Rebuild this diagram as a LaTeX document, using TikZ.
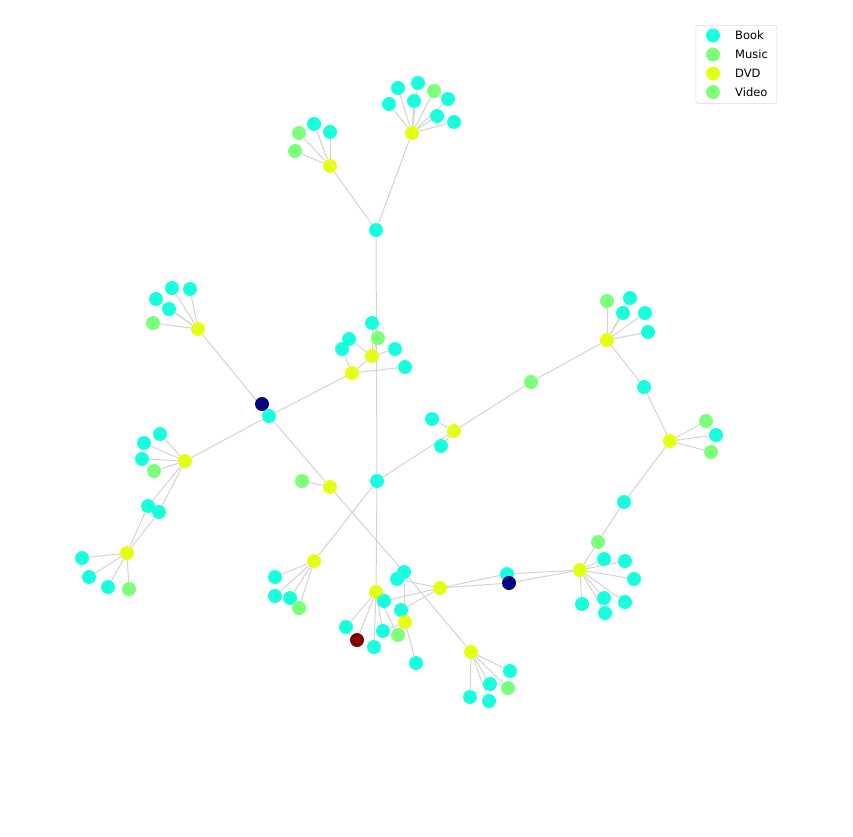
\documentclass[tikz,border=0pt]{standalone}
\usepackage{fontspec}
\setsansfont{DejaVu Sans}
\usepackage{tikz}
\usetikzlibrary{backgrounds}
\definecolor{bookcyan}{HTML}{18FFDD}
\definecolor{musicgreen}{HTML}{7CFF79}
\definecolor{dvdyellow}{HTML}{E4FF14}
\definecolor{videogreen}{HTML}{7CFF79}
\definecolor{deepnavy}{HTML}{000080}
\definecolor{deepmaroon}{HTML}{800000}
\definecolor{linkgray}{HTML}{D3D3D3}
\tikzset{
  item/.style={circle, inner sep=0pt, minimum size=14pt},
  book/.style={item, fill=bookcyan},
  music/.style={item, fill=musicgreen},
  dvd/.style={item, fill=dvdyellow},
  navy/.style={item, fill=deepnavy},
  maroon/.style={item, fill=deepmaroon},
  link/.style={draw=linkgray, line width=1pt},
}

\begin{document}
\begin{tikzpicture}[x=1pt, y=-1pt, font=\sffamily,
    legbox/.style={draw=black!15, rounded corners=2.5pt, line width=0.6pt, fill=white},
    legtext/.style={anchor=west, inner sep=0pt, font=\sffamily\fontsize{11.5}{13}\selectfont}]
  \useasboundingbox (0,0) rectangle (853,836);

  % Top branch
  \node[book] (A) at (376,230) {};
  \node[dvd] (B) at (412,133) {};
  \node[book] (b1) at (389,104) {};
  \node[book] (b2) at (398,88) {};
  \node[book] (b3) at (418,83) {};
  \node[book] (b4) at (414,101) {};
  \node[music] (b5) at (434,91) {};
  \node[book] (b6) at (448,99) {};
  \node[book] (b7) at (437,116) {};
  \node[book] (b8) at (454,122) {};
  \node[dvd] (C) at (330,166) {};
  \node[music] (c1) at (299,133) {};
  \node[book] (c2) at (314,124) {};
  \node[book] (c3) at (330,132) {};
  \node[music] (c4) at (295,151) {};

  % Middle cluster
  \node[book] (d1) at (372,323) {};
  \node[music] (d2) at (378,338) {};
  \node[book] (d3) at (395,349) {};
  \node[book] (d4) at (349,339) {};
  \node[book] (e1) at (342,349) {};
  \node[dvd] (D) at (372,356) {};
  \node[book] (e2) at (405,367) {};
  \node[dvd] (E) at (352,373) {};

  % Left branch
  \node[dvd] (F) at (198,329) {};
  \node[book] (f1) at (172,288) {};
  \node[book] (f2) at (190,289) {};
  \node[book] (f3) at (156,299) {};
  \node[book] (f4) at (169,309) {};
  \node[music] (f5) at (153,323) {};
  \node[navy] (G) at (262,404) {};
  \node[book] (H) at (269,416) {};
  \node[dvd] (I) at (185,461) {};
  \node[book] (i1) at (160,434) {};
  \node[book] (i2) at (144,443) {};
  \node[book] (i3) at (142,459) {};
  \node[music] (i4) at (154,471) {};
  \node[book] (j1) at (148,506) {};
  \node[book] (j2) at (159,512) {};
  \node[dvd] (K) at (127,553) {};
  \node[book] (k1) at (82,558) {};
  \node[book] (k2) at (89,577) {};
  \node[book] (k3) at (108,587) {};
  \node[music] (k4) at (129,589) {};

  % Centre and right branch
  \node[dvd] (L) at (330,487) {};
  \node[music] (l1) at (302,481) {};
  \node[book] (M) at (377,481) {};
  \node[dvd] (N) at (454,431) {};
  \node[book] (n1) at (432,419) {};
  \node[book] (n2) at (441,446) {};
  \node[music] (O) at (531,382) {};
  \node[dvd] (P) at (607,340) {};
  \node[music] (p1) at (607,301) {};
  \node[book] (p2) at (630,298) {};
  \node[book] (p3) at (623,313) {};
  \node[book] (p4) at (645,313) {};
  \node[book] (p5) at (648,332) {};
  \node[book] (Q) at (644,387) {};
  \node[dvd] (R) at (670,441) {};
  \node[music] (r1) at (706,421) {};
  \node[book] (r2) at (716,435) {};
  \node[music] (r3) at (711,452) {};
  \node[book] (S) at (624,502) {};
  \node[music] (T) at (598,542) {};
  \node[dvd] (U) at (580,570) {};
  \node[book] (u1) at (604,559) {};
  \node[book] (u2) at (625,561) {};
  \node[book] (u3) at (634,579) {};
  \node[book] (u4) at (582,604) {};
  \node[book] (u5) at (604,598) {};
  \node[book] (u6) at (625,602) {};
  \node[book] (u7) at (605,613) {};
  \node[book] (V) at (507,574) {};
  \node[navy] (W) at (509,583) {};
  \node[dvd] (X) at (440,588) {};

  % Bottom clusters
  \node[dvd] (AA) at (314,561) {};
  \node[book] (aa1) at (275,577) {};
  \node[book] (aa2) at (275,596) {};
  \node[book] (aa3) at (290,598) {};
  \node[music] (aa4) at (299,608) {};
  \node[book] (z1) at (404,572) {};
  \node[book] (z2) at (397,579) {};
  \node[dvd] (Y) at (376,592) {};
  \node[book] (y6) at (384,601) {};
  \node[book] (z3) at (401,610) {};
  \node[dvd] (Z) at (405,622) {};
  \node[book] (y1) at (346,627) {};
  \node[maroon] (y2) at (357,640) {};
  \node[book] (y3) at (374,647) {};
  \node[book] (y4) at (383,631) {};
  \node[music] (y5) at (398,635) {};
  \node[book] (z4) at (416,663) {};
  \node[dvd] (BB) at (471,652) {};
  \node[book] (bb1) at (510,671) {};
  \node[music] (bb2) at (508,688) {};
  \node[book] (bb3) at (490,684) {};
  \node[book] (bb4) at (470,697) {};
  \node[book] (bb5) at (489,701) {};

  % Links
  \begin{scope}[on background layer]
    \foreach \u/\v in {A/B, A/C, A/M, B/b1, B/b2, B/b3, B/b4, B/b5, B/b6, B/b7, B/b8,
        C/c1, C/c2, C/c3, C/c4, D/d1, D/d2, D/d3, D/d4, D/E, E/e1, E/e2, E/H,
        F/f1, F/f2, F/f3, F/f4, F/f5, F/H, H/I, H/L, L/l1, L/z1, z1/BB,
        I/i1, I/i2, I/i3, I/i4, I/j1, I/j2, j1/K, j2/K, K/k1, K/k2, K/k3, K/k4,
        M/AA, M/Y, M/N, AA/aa1, AA/aa2, AA/aa3, AA/aa4, N/n1, N/n2, N/O, O/P,
        P/p1, P/p2, P/p3, P/p4, P/p5, P/Q, Q/R, R/r1, R/r2, R/r3, R/S, S/T, T/U,
        U/u1, U/u2, U/u3, U/u4, U/u5, U/u6, U/u7, U/V, U/W, V/X, W/X,
        X/y6, X/z2, X/z3, Y/y1, Y/y2, Y/y3, Y/y4, Y/y5, Y/y6, Z/z1, Z/z4, Z/y4,
        BB/bb1, BB/bb2, BB/bb3, BB/bb4, BB/bb5}
      \draw[link] (\u) -- (\v);
  \end{scope}

  % Legend
  \node[legbox, minimum width=81pt, minimum height=78pt, anchor=north west] (legend) at (695.5,25) {};
  \node[book] (kbook) at (713,35.5) {};
  \node[music] (kmusic) at (713,54.5) {};
  \node[dvd] (kdvd) at (713,73.5) {};
  \node[music] (kvideo) at (713,92) {};
  \node[legtext] (tbook) at (735,35.5) {Book};
  \node[legtext] (tmusic) at (735,54.5) {Music};
  \node[legtext] (tdvd) at (735,73.5) {DVD};
  \node[legtext] (tvideo) at (735,92) {Video};
\end{tikzpicture}
\end{document}
